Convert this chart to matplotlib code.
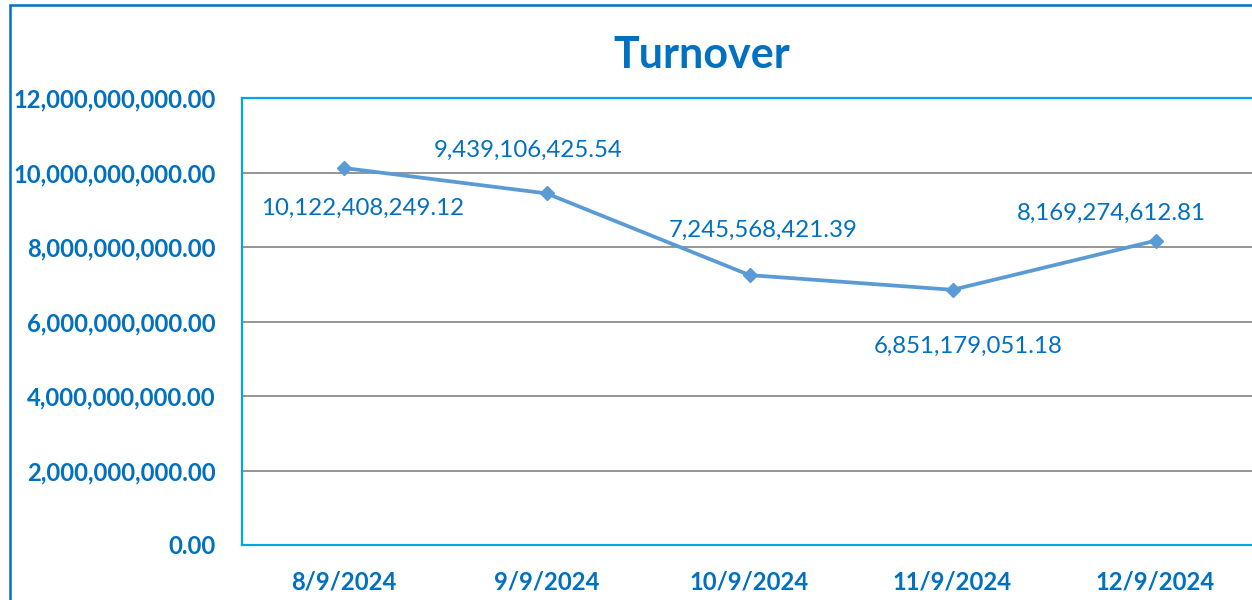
import numpy as np
import matplotlib.pyplot as plt
from matplotlib.patches import Rectangle
from matplotlib.ticker import FuncFormatter

# -------- data --------
dates = ["8/9/2024", "9/9/2024", "10/9/2024", "11/9/2024", "12/9/2024"]
turnover = [10122408249.12, 9439106425.54, 7245568421.39, 6851179051.18, 8169274612.81]
y_ticks = [0, 2e9, 4e9, 6e9, 8e9, 10e9, 12e9]

# label offsets (pixels) relative to each point
label_offsets = [(19, -40), (-18, 43), (14, 45), (16, -57), (-44, 27)]

TEXT_BLUE = "#0070C0"
LINE_BLUE = "#5B9BD5"
FRAME_BLUE = "#00A6E6"

plt.rcParams['font.family'] = ['Lato', 'DejaVu Sans']

fig = plt.figure(figsize=(12.52, 6.0), dpi=100)
ax = fig.add_axes([242/1252, 1 - 545/600, 1015/1252, (545 - 98)/600])

x = np.arange(len(dates))
ax.plot(x, turnover, color=LINE_BLUE, lw=2.7, marker="D", ms=7, zorder=3)

for xi, v, (dx, dy) in zip(x, turnover, label_offsets):
    ax.annotate(f"{v:,.2f}", (xi, v), xytext=(dx, dy), textcoords="offset pixels",
                ha="center", va="center", fontsize=17.3, color=TEXT_BLUE)

ax.set_xlim(-0.5, len(dates) - 0.5)
ax.set_ylim(0, 12e9)
ax.set_yticks(y_ticks)
ax.yaxis.set_major_formatter(FuncFormatter(lambda v, p: f"{v:,.2f}"))
ax.set_xticks(x)
ax.set_xticklabels(dates)
ax.grid(axis="y", color="#8C8C8C", lw=1.3, zorder=0)
ax.tick_params(length=0, labelsize=17.2, labelcolor=TEXT_BLUE)
ax.tick_params(axis="x", pad=18)
ax.tick_params(axis="y", pad=19)
for lbl in ax.get_xticklabels() + ax.get_yticklabels():
    lbl.set_fontweight("bold")
for s in ax.spines.values():
    s.set_color(FRAME_BLUE)
    s.set_linewidth(1.6)

fig.text(702/1252, 1 - 55/600, "Turnover", ha="center", va="center",
         fontsize=31, fontweight="bold", color=TEXT_BLUE)

# outer chart border
fig.patches.append(Rectangle((10/1252, -0.1), 1.2, 1.1 - 5/600, transform=fig.transFigure,
                             fill=False, edgecolor=TEXT_BLUE, lw=1.8))

fig.savefig("out.png", dpi=100)
